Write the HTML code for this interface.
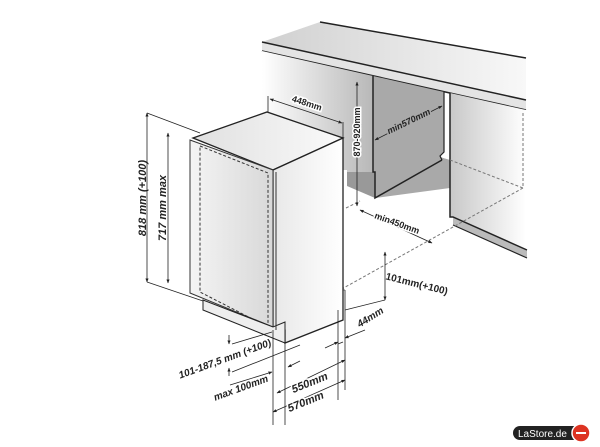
<!DOCTYPE html>
<html><head><style>
html,body{margin:0;padding:0;background:#fff;width:600px;height:447px;overflow:hidden}
svg text{font-family:"Liberation Sans",sans-serif;font-weight:bold;fill:#222}
</style></head><body>
<svg width="600" height="447" viewBox="0 0 600 447" xmlns="http://www.w3.org/2000/svg">
<defs>
<linearGradient id="gl" x1="0" x2="1"><stop offset="0" stop-color="#fff"/><stop offset="1" stop-color="#b8b8b8"/></linearGradient>
<linearGradient id="gr" x1="0" x2="1"><stop offset="0" stop-color="#c8c8c8"/><stop offset="1" stop-color="#fff"/></linearGradient>
<linearGradient id="gd" x1="0" x2="1"><stop offset="0" stop-color="#f4f4f4"/><stop offset="1" stop-color="#d8d8d8"/></linearGradient>
<linearGradient id="gs" x1="0" x2="1"><stop offset="0" stop-color="#e8e8e8"/><stop offset="1" stop-color="#fff"/></linearGradient>
<linearGradient id="gt" x1="0" x2="1"><stop offset="0" stop-color="#e0e0e0"/><stop offset="1" stop-color="#fafafa"/></linearGradient>
<linearGradient id="gc" x1="0" x2="1"><stop offset="0" stop-color="#d0d0d0"/><stop offset="1" stop-color="#f8f8f8"/></linearGradient>
<marker id="a" viewBox="0 0 10 10" refX="9" refY="5" markerWidth="5" markerHeight="5" orient="auto-start-reverse"><path d="M0,1 L10,5 L0,9z" fill="#222"/></marker>
</defs>
<!-- counter top -->
<polygon points="262,42 320,22 526,58 526,100" fill="url(#gc)"/>
<polygon points="262,42 526,100 526,110 262,51" fill="#e4e4e4"/>
<line x1="320" y1="22" x2="526" y2="58" stroke="#222" stroke-width="1.5"/>
<line x1="262" y1="42" x2="526" y2="100" stroke="#222" stroke-width="1.5"/>
<line x1="262" y1="51" x2="526" y2="110" stroke="#222" stroke-width="1.5"/>
<!-- left cabinet -->
<polygon points="262,51 373,76 373,172 347,172 347,170 262,170" fill="url(#gl)"/>
<polygon points="347,172 375,172 375,198 347,186" fill="#999"/>
<!-- cavity -->
<polygon points="373,76 444,92 444,152 440,157 450,160 450,188 375,198 375,172 373,172" fill="#a9a9a9"/>
<polyline points="373,76 373,172 375,172 375,198 442,160" fill="none" stroke="#222" stroke-width="1.5"/>
<polyline points="444,92 444,152 440,156 442,160" fill="none" stroke="#222" stroke-width="1.2"/>
<!-- right cabinet -->
<polygon points="450,93 526,110 526,250 453,217 450,217" fill="url(#gr)"/>
<polygon points="453,217 527,250 527,258 453,225" fill="#bbb"/>
<polyline points="450,93 450,217 453,217 527,250" fill="none" stroke="#222" stroke-width="1.5"/>
<line x1="453" y1="225" x2="527" y2="258" stroke="#222" stroke-width="1.2"/>
<line x1="523" y1="113" x2="523" y2="188" stroke="#777" stroke-dasharray="3,2"/>
<line x1="450" y1="160" x2="523" y2="188" stroke="#777" stroke-dasharray="3,2"/>
<line x1="523" y1="188" x2="340" y2="290" stroke="#777" stroke-dasharray="3,2"/>
<line x1="346" y1="208" x2="360" y2="201" stroke="#777" stroke-dasharray="3,2"/>
<line x1="325" y1="218" x2="340" y2="210" stroke="#777" stroke-dasharray="3,2"/>
<line x1="340" y1="290" x2="345" y2="290" stroke="#777"/>
<!-- dishwasher -->
<polygon points="193,138 267,112 343,138 273,170" fill="url(#gt)" stroke="#222" stroke-width="1.3"/>
<polygon points="273,170 343,138 343,320 285,343 285,330 273,327" fill="url(#gs)" stroke="#222" stroke-width="1.3"/>
<polygon points="190,140 273,170 273,327 190,293" fill="url(#gd)" stroke="#333" stroke-width="1"/>
<polygon points="200,146 268,173 268,327 200,292" fill="none" stroke="#333" stroke-width="1" stroke-dasharray="3,2"/>
<polygon points="203,300 273,327 285,322 285,343 203,310" fill="#eee" stroke="#222" stroke-width="1"/>
<line x1="276" y1="172" x2="276" y2="330" stroke="#333"/>
<!-- dimension lines -->
<g stroke="#222" stroke-width="0.8" fill="none">
<line x1="147" y1="113" x2="147" y2="282" marker-start="url(#a)" marker-end="url(#a)"/>
<line x1="147" y1="113" x2="200" y2="133"/>
<line x1="147" y1="282" x2="203" y2="301"/>
<line x1="168" y1="133" x2="168" y2="283" marker-start="url(#a)" marker-end="url(#a)"/>
<line x1="268" y1="96" x2="268" y2="112"/><line x1="343" y1="122" x2="343" y2="138"/>
<line x1="270" y1="99" x2="342" y2="123" marker-start="url(#a)" marker-end="url(#a)"/>
<line x1="357" y1="82" x2="357" y2="206" marker-start="url(#a)" marker-end="url(#a)"/>
<line x1="375" y1="140" x2="442" y2="106" marker-start="url(#a)" marker-end="url(#a)"/>
<line x1="360" y1="210" x2="432" y2="243" marker-start="url(#a)" marker-end="url(#a)"/>
<line x1="385" y1="252" x2="385" y2="300" marker-start="url(#a)" marker-end="url(#a)"/>
<line x1="385" y1="300" x2="345" y2="310"/>
<line x1="345" y1="290" x2="345" y2="310"/>
<line x1="338" y1="344" x2="343" y2="342"/>
<line x1="285" y1="343" x2="285" y2="425"/><line x1="273" y1="330" x2="273" y2="425"/>
<line x1="338" y1="310" x2="338" y2="400"/><line x1="345" y1="310" x2="345" y2="390"/>
<line x1="325" y1="348" x2="338" y2="342" marker-end="url(#a)"/>
<line x1="365" y1="330" x2="345" y2="338" marker-end="url(#a)"/>
<line x1="288" y1="367" x2="300" y2="361" marker-start="url(#a)"/>
<line x1="277" y1="393" x2="345" y2="360" marker-start="url(#a)" marker-end="url(#a)"/>
<line x1="273" y1="412" x2="345" y2="380" marker-start="url(#a)" marker-end="url(#a)"/>
<line x1="230" y1="385" x2="272" y2="372" marker-end="url(#a)"/>
<line x1="229" y1="335" x2="229" y2="344" marker-end="url(#a)"/>
<line x1="229" y1="376" x2="229" y2="368" marker-end="url(#a)"/>
<line x1="232" y1="344" x2="272" y2="332"/>
<line x1="232" y1="372" x2="300" y2="345"/>
</g>
<!-- labels -->
<g font-size="10">
<text transform="translate(146,198) rotate(-90)" text-anchor="middle" font-style="italic" font-size="11">818 mm (+100)</text>
<text transform="translate(166,208) rotate(-90)" text-anchor="middle" font-style="italic" font-size="11">717 mm max</text>
<text transform="translate(306,106) rotate(18)" text-anchor="middle" font-size="9" style="fill:#222;stroke:#fff;stroke-width:3;paint-order:stroke">448mm</text>
<text transform="translate(360,132) rotate(-90)" text-anchor="middle" font-size="9" style="stroke:#fff;stroke-width:3;paint-order:stroke">870-920mm</text>
<text transform="translate(410,124) rotate(-26)" text-anchor="middle" font-size="9" font-style="italic" style="stroke:#aaa;stroke-width:3;paint-order:stroke">min570mm</text>
<text transform="translate(396,226) rotate(20)" text-anchor="middle" font-size="9" style="stroke:#fff;stroke-width:3;paint-order:stroke">min450mm</text>
<text transform="translate(416,287) rotate(14)" text-anchor="middle" font-size="10">101mm(+100)</text>
<text transform="translate(372,320) rotate(-32)" text-anchor="middle" font-size="10" font-style="italic">44mm</text>
<text transform="translate(226,362) rotate(-20)" text-anchor="middle" font-size="10" font-style="italic">101-187,5 mm (+100)</text>
<text transform="translate(242,391) rotate(-20)" text-anchor="middle" font-size="10" font-style="italic">max 100mm</text>
<text transform="translate(311,386) rotate(-22)" text-anchor="middle" font-size="11" font-style="italic" style="stroke:#fff;stroke-width:3;paint-order:stroke">550mm</text>
<text transform="translate(307,405) rotate(-22)" text-anchor="middle" font-size="11" font-style="italic" style="stroke:#fff;stroke-width:3;paint-order:stroke">570mm</text>
</g>
<!-- logo -->
<rect x="513" y="426" width="68" height="14" rx="7" fill="#222"/>
<text x="518" y="437" font-size="10" style="fill:#fff;font-weight:normal">LaStore.de</text>
<circle cx="581" cy="433" r="9" fill="#d32" stroke="#fff" stroke-width="1.5"/>
<rect x="576" y="432" width="10" height="2" fill="#fff"/>
</svg>
</body></html>
